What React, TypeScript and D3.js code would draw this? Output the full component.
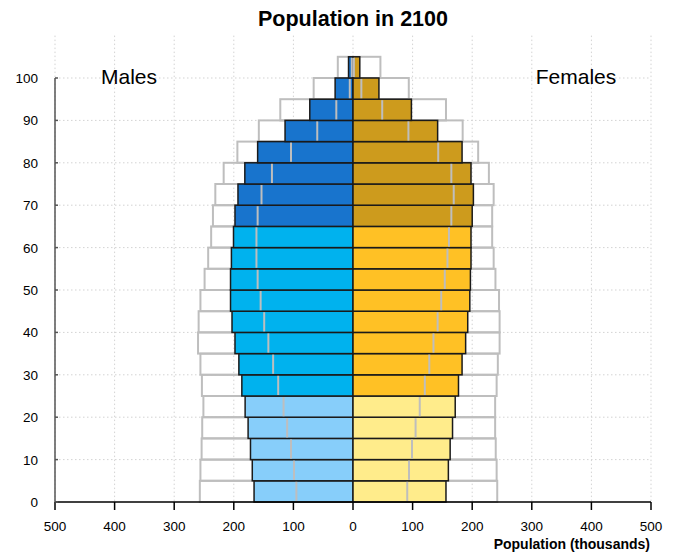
import React from "react";
import * as d3 from "d3";

const ageStarts = [0, 5, 10, 15, 20, 25, 30, 35, 40, 45, 50, 55, 60, 65, 70, 75, 80, 85, 90, 95, 100];
const maleValues = [166, 169, 172, 176, 181, 186.5, 191.5, 198, 203, 205.5, 205.5, 204, 200.5, 198, 193, 181.5, 160, 114, 72.5, 30, 7.5];
const femaleValues = [156, 160, 163, 167, 171.5, 177, 183, 189, 192.5, 196, 197, 198, 198, 200, 202, 198, 183, 142, 98, 43.5, 11.4];
const maleOutline = [257, 256, 254, 253, 251, 253.5, 256, 260, 259, 256, 249, 243, 238, 235, 231, 217, 194, 158, 122, 66, 25.5];
const femaleOutline = [242, 241, 239.5, 238.5, 238.5, 241, 243, 246, 246, 245, 239, 236, 233.5, 233.5, 236, 228, 210, 184, 156, 93.6, 46];
const maleMarker = [95, 99, 104, 110.5, 116.5, 125.5, 134, 142, 149, 155, 160, 162, 162, 160, 153.5, 136, 104, 60, 28, 5.4, 2];
const femaleMarker = [91, 94, 99, 105, 112, 120.5, 128, 135, 142, 148, 154, 158.5, 161, 165, 169, 165, 143, 93, 49, 14, 1.5];
const xTicks = [-500, -400, -300, -200, -100, 0, 100, 200, 300, 400, 500];
const yTicks = [0, 10, 20, 30, 40, 50, 60, 70, 80, 90, 100];

const maleColors = ["#87CEFA", "#00B2EE", "#1874CD"];
const femaleColors = ["#FFEC8B", "#FFC125", "#CD9B1D"];

function band(age: number) {
  if (age < 25) return 0;
  if (age < 65) return 1;
  return 2;
}

export default function App() {
  const W = 680, H = 552;
  const x = d3.scaleLinear().domain([-500, 500]).range([55, 651]);
  const y = d3.scaleLinear().domain([0, 110]).range([502, 35.6]);
  const font = "'Liberation Sans', Arial, Helvetica, sans-serif";
  const rows = ageStarts.map((a, i) => ({ a, i }));

  return (
    <svg width={W} height={H} style={{ position: "absolute", left: 0, top: 0 }} fontFamily={font}>
      <rect width={W} height={H} fill="white" />
      {/* grid */}
      {xTicks.map((t) => (
        <line key={"gx" + t} x1={x(t)} x2={x(t)} y1={y(110)} y2={y(0)} stroke="#d3d3d3" strokeDasharray="1.5,2.5" strokeWidth={1} />
      ))}
      {yTicks.slice(1).map((t) => (
        <line key={"gy" + t} x1={x(-500)} x2={x(500)} y1={y(t)} y2={y(t)} stroke="#d3d3d3" strokeDasharray="1.5,2.5" strokeWidth={1} />
      ))}
      {/* outline bars */}
      {rows.map(({ a, i }) => (
        <g key={"o" + i}>
          <rect x={x(-maleOutline[i])} y={y(a + 5)} width={x(0) - x(-maleOutline[i])} height={y(a) - y(a + 5)} fill="none" stroke="#bebebe" strokeWidth={2} />
          <rect x={x(0)} y={y(a + 5)} width={x(femaleOutline[i]) - x(0)} height={y(a) - y(a + 5)} fill="none" stroke="#bebebe" strokeWidth={2} />
        </g>
      ))}
      {/* colored bars */}
      {rows.map(({ a, i }) => (
        <g key={"b" + i}>
          <rect x={x(-maleValues[i])} y={y(a + 5)} width={x(0) - x(-maleValues[i])} height={y(a) - y(a + 5)} fill={maleColors[band(a)]} stroke="#1a1a1a" strokeWidth={1.5} />
          <rect x={x(0)} y={y(a + 5)} width={x(femaleValues[i]) - x(0)} height={y(a) - y(a + 5)} fill={femaleColors[band(a)]} stroke="#1a1a1a" strokeWidth={1.5} />
        </g>
      ))}
      {/* markers */}
      {rows.map(({ a, i }) => (
        <g key={"m" + i}>
          <line x1={x(-maleMarker[i])} x2={x(-maleMarker[i])} y1={y(a + 5) + 1} y2={y(a) - 1} stroke="#bebebe" strokeWidth={2} />
          <line x1={x(femaleMarker[i])} x2={x(femaleMarker[i])} y1={y(a + 5) + 1} y2={y(a) - 1} stroke="#bebebe" strokeWidth={2} />
        </g>
      ))}
      {/* axes */}
      <line x1={x(-500)} x2={x(500)} y1={y(0)} y2={y(0)} stroke="#000" strokeWidth={1.5} />
      {xTicks.map((t) => (
        <g key={"xt" + t}>
          <line x1={x(t)} x2={x(t)} y1={y(0)} y2={y(0) + 8} stroke="#000" strokeWidth={1.5} />
          <text x={x(t)} y={y(0) + 29} textAnchor="middle" fontSize={13.5} fill="#000">{Math.abs(t)}</text>
        </g>
      ))}
      <line x1={x(-500)} x2={x(-500)} y1={y(0)} y2={y(100)} stroke="#555" strokeWidth={1.5} />
      {yTicks.map((t) => (
        <g key={"yt" + t}>
          <line x1={x(-500)} x2={x(-500) + 3} y1={y(t)} y2={y(t)} stroke="#555" strokeWidth={1.5} />
          <text x={38} y={y(t) + 5} textAnchor="end" fontSize={13.5} fill="#000">{t}</text>
        </g>
      ))}
      <text x={x(0)} y={26} textAnchor="middle" fontSize={21.5} fontWeight="bold" fill="#000">Population in 2100</text>
      <text x={129} y={84} textAnchor="middle" fontSize={21} fill="#000">Males</text>
      <text x={576} y={84} textAnchor="middle" fontSize={21} fill="#000">Females</text>
      <text x={650} y={549} textAnchor="end" fontSize={14} fontWeight="bold" fill="#000">Population (thousands)</text>
    </svg>
  );
}
